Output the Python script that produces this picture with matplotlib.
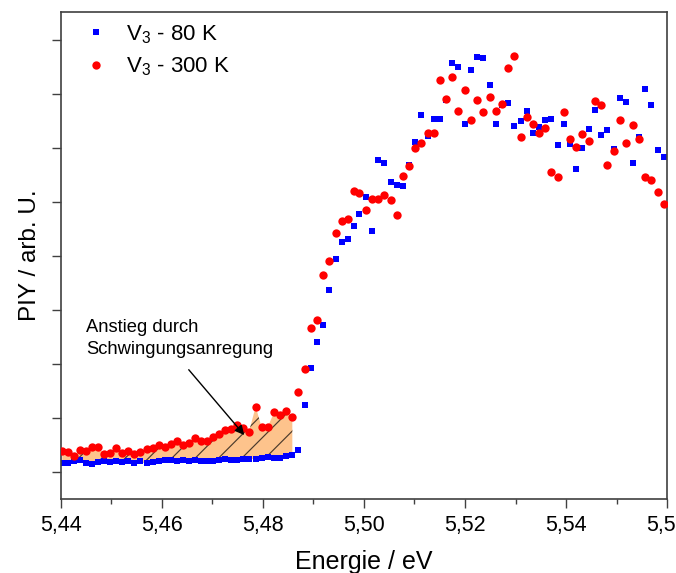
import matplotlib
matplotlib.use("Agg")
import matplotlib.pyplot as plt
from matplotlib.ticker import MultipleLocator, FuncFormatter

# figure is drawn at 140 dpi so the hatch spacing matches; K turns
# sizes thought of at 100 dpi into points at 140 dpi
DPI = 140
K = 100 / DPI

plt.rcParams['font.family'] = ['Liberation Sans', 'DejaVu Sans']
plt.rcParams['mathtext.fontset'] = 'custom'
plt.rcParams['mathtext.rm'] = 'Liberation Sans'
plt.rcParams['mathtext.default'] = 'rm'
plt.rcParams['hatch.linewidth'] = 0.85 * K

# photon energy (eV), shared by both scans
energy = [
    5.44026, 5.44144, 5.44263, 5.44382, 5.44500, 5.44619, 5.44737, 5.44856, 5.44975, 5.45093,
    5.45212, 5.45331, 5.45449, 5.45568, 5.45700, 5.45819, 5.45938, 5.46056, 5.46175, 5.46293,
    5.46412, 5.46537, 5.46655, 5.46774, 5.46892, 5.47011, 5.47130, 5.47248, 5.47367, 5.47486,
    5.47604, 5.47723, 5.47855, 5.47974, 5.48092, 5.48225, 5.48344, 5.48462, 5.48581, 5.48699,
    5.48824, 5.48949, 5.49067, 5.49186, 5.49312, 5.49437, 5.49556, 5.49674, 5.49793, 5.49911,
    5.50036, 5.50162, 5.50281, 5.50406, 5.50530, 5.50649, 5.50771, 5.50894, 5.51018, 5.51137,
    5.51262, 5.51380, 5.51507, 5.51625, 5.51750, 5.51869, 5.51993, 5.52120, 5.52244, 5.52363,
    5.52487, 5.52610, 5.52733, 5.52857, 5.52976, 5.53104, 5.53219, 5.53346, 5.53464, 5.53589,
    5.53707, 5.53840, 5.53958, 5.54083, 5.54207, 5.54326, 5.54453, 5.54577, 5.54702, 5.54820,
    5.54947, 5.55071, 5.55196, 5.55323, 5.55447, 5.55566, 5.55690, 5.55817, 5.55936,
]

# V3 - 80 K
piy_80k = [
    0.161, 0.161, 0.198, 0.222, 0.161, 0.154, 0.180, 0.198, 0.180, 0.209,
    0.180, 0.198, 0.161, 0.198, 0.161, 0.185, 0.204, 0.217, 0.222, 0.209,
    0.217, 0.209, 0.217, 0.209, 0.204, 0.209, 0.217, 0.235, 0.222, 0.217,
    0.235, 0.235, 0.246, 0.254, 0.278, 0.254, 0.265, 0.302, 0.320, 0.407,
    1.250, 1.931, 2.413, 2.728, 3.370, 3.939, 4.265, 4.315, 4.561, 4.778,
    5.098, 4.463, 5.778, 5.717, 5.370, 5.309, 5.296, 5.680, 6.111, 6.617,
    6.228, 6.531, 6.543, 6.889, 7.580, 7.506, 6.450, 7.444, 7.691, 7.661,
    7.167, 6.439, 6.796, 6.833, 6.413, 6.509, 6.691, 6.278, 6.383, 6.524,
    6.543, 6.050, 6.450, 6.074, 5.617, 6.000, 6.352, 6.698, 6.235, 6.339,
    5.976, 6.926, 6.852, 5.722, 6.198, 7.093, 6.802, 5.969, 5.828,
]

# V3 - 300 K
piy_300k = [
    0.394, 0.365, 0.302, 0.407, 0.383, 0.469, 0.463, 0.328, 0.346, 0.444,
    0.357, 0.394, 0.328, 0.365, 0.420, 0.450, 0.500, 0.469, 0.524, 0.574,
    0.500, 0.543, 0.624, 0.574, 0.574, 0.643, 0.704, 0.778, 0.791, 0.870,
    0.809, 0.746, 1.209, 0.828, 0.828, 1.117, 1.056, 1.135, 1.013, 1.487,
    1.913, 2.667, 2.815, 3.643, 3.902, 4.420, 4.643, 4.691, 5.213, 5.172,
    4.852, 5.061, 5.056, 5.124, 5.037, 4.759, 5.481, 5.672, 5.994, 6.087,
    6.272, 6.278, 7.265, 6.913, 7.320, 6.691, 7.080, 6.524, 6.889, 6.661,
    6.939, 6.680, 6.815, 7.481, 7.698, 6.204, 6.569, 6.444, 6.272, 6.376,
    5.561, 5.469, 6.661, 6.161, 6.013, 6.254, 6.130, 6.870, 6.796, 5.685,
    5.944, 6.519, 6.087, 6.420, 6.167, 5.463, 5.413, 5.191, 4.957,
]

n_fill = 39  # points below the edge where the two scans are compared

fig = plt.figure(figsize=(676 / DPI, 573 / DPI), dpi=DPI)
ax = fig.add_axes([0.0902, 0.1291, 0.8965, 0.8499])

ax.fill_between(energy[:n_fill], piy_80k[:n_fill], piy_300k[:n_fill],
                facecolor='#fdc38c', edgecolor='#4a3a2c', hatch='//', linewidth=0, zorder=1)

ax.plot(energy, piy_80k, 's', color='#0000ff', markersize=5 * K, mew=0,
        label='V$_3$ - 80 K', zorder=2)
ax.plot(energy, piy_300k, 'o', color='#ff0000', markersize=6 * K, mew=0,
        label='V$_3$ - 300 K', zorder=3)

ax.text(5.4449, 2.48, 'Anstieg durch\nSchwingungsanregung', fontsize=13.2 * K,
        ha='left', va='center', linespacing=1.37)
ax.annotate('', xy=(5.4768, 0.63), xytext=(5.4648, 1.95),
            arrowprops=dict(arrowstyle='-|>', color='black', lw=1 * K, mutation_scale=14 * K))

ax.set_xlim(5.44, 5.56)
ax.set_ylim(-0.5, 8.52)
ax.xaxis.set_major_locator(MultipleLocator(0.02))
ax.xaxis.set_minor_locator(MultipleLocator(0.01))
ax.xaxis.set_major_formatter(FuncFormatter(lambda v, p: f'{v:.2f}'.replace('.', ',')))
ax.yaxis.set_major_locator(MultipleLocator(1))
ax.set_yticklabels([])

ax.tick_params(axis='both', which='major', direction='out', length=6.5 * K, width=1 * K,
               color='#404040', labelsize=15.5 * K, pad=5 * K)
ax.tick_params(axis='x', which='minor', direction='out', length=3.5 * K, width=1 * K,
               color='#404040')
for s in ax.spines.values():
    s.set_color('#404040')
    s.set_linewidth(1.2 * K)

ax.set_xlabel('Energie / eV', fontsize=18 * K, labelpad=10 * K)
ax.set_ylabel('PIY / arb. U.', fontsize=17.5 * K, labelpad=2.6 * K)

ax.legend(loc='upper left', bbox_to_anchor=(0.021, 1.0), frameon=False, fontsize=16 * K,
          handlelength=1.0, handletextpad=0.86, labelspacing=0.45, borderaxespad=0.1)

fig.savefig('out.png', dpi=DPI)
